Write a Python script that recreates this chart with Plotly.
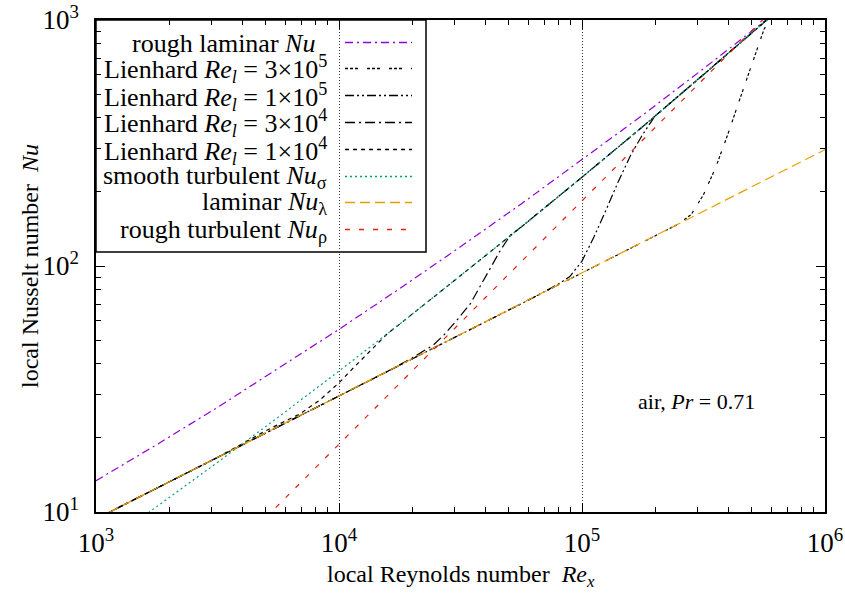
import plotly.graph_objects as go

# ---------------- data ----------------
re_rough_lam = [1000, 1780, 3160, 5620, 10000, 17800, 31600, 56200, 100000, 178000, 316000, 562000, 631000]
nu_rough_lam = [13.4, 18.8, 26.6, 38.2, 55.3, 81.0, 119.7, 178.8, 270, 411, 634, 985, 1078]

re_l3e5 = [1000, 10000, 100000, 199500, 251200, 281800, 316200, 354800, 398100, 446700, 501200, 562300, 631000]
nu_l3e5 = [9.37, 29.6, 93.6, 132.3, 148.6, 162.2, 195.0, 251.2, 342.8, 478.6, 668.3, 922, 1081]

re_l1e5 = [1000, 10000, 63100, 79400, 89100, 100000, 112200, 125900, 141300, 158500, 177800, 199500, 316000, 631000]
nu_l1e5 = [9.37, 29.6, 74.4, 84.1, 90.6, 104.7, 131.8, 169.8, 221.3, 281.8, 342.8, 406.4, 599, 1081]

re_l3e4 = [1000, 10000, 15850, 20000, 24500, 27000, 30600, 34800, 38800, 42000, 46200, 50800, 56200, 100000, 178000, 316000, 631000]
nu_l3e4 = [9.37, 29.6, 37.3, 42.3, 47.8, 52.4, 60.3, 70.5, 85.1, 97.9, 116.1, 133.7, 144, 229.6, 369, 599, 1081]

re_l1e4 = [1000, 3160, 5000, 6920, 8260, 10000, 11510, 13490, 15850, 17800, 31600, 56200, 100000, 178000, 316000, 631000]
nu_l1e4 = [9.37, 16.66, 21.4, 25.1, 28.3, 33.5, 38.7, 45.4, 53.2, 58.1, 91.1, 144, 229.6, 369, 599, 1081]

re_smooth_turb = [1580, 3160, 5620, 10000, 17800, 31600, 56200, 100000, 178000, 316000, 631000]
nu_smooth_turb = [9.66, 15.9, 24.3, 37.4, 58.1, 91.1, 144, 229.6, 369, 599, 1081]

re_laminar = [1000, 10000, 100000, 1000000]
nu_laminar = [9.37, 29.6, 93.6, 297]

re_rough_turb = [5000, 10000, 100000, 631000]
nu_rough_turb = [9.5, 18.9, 184, 1140]

x_tickvals = [1e3, 1e4, 1e5, 1e6]
x_ticktext = ["10<sup>3</sup>", "10<sup>4</sup>", "10<sup>5</sup>", "10<sup>6</sup>"]
y_tickvals = [10, 100, 1000]
y_ticktext = ["10<sup>1</sup>", "10<sup>2</sup>", "10<sup>3</sup>"]
x_minor = [m * 10 ** e for e in (3, 4, 5) for m in range(2, 10)]
y_minor = [m * 10 ** e for e in (1, 2) for m in range(2, 10)]

legend_labels = [
    "rough laminar <i>Nu</i>",
    "Lienhard <i>Re</i><sub><i>l</i></sub> = 3×10<sup>5</sup>",
    "Lienhard <i>Re</i><sub><i>l</i></sub> = 1×10<sup>5</sup>",
    "Lienhard <i>Re</i><sub><i>l</i></sub> = 3×10<sup>4</sup>",
    "Lienhard <i>Re</i><sub><i>l</i></sub> = 1×10<sup>4</sup>",
    "smooth turbulent <i>Nu</i><sub>σ</sub>",
    "laminar <i>Nu</i><sub>λ</sub>",
    "rough turbulent <i>Nu</i><sub>ρ</sub>",
]
x_title = "local Reynolds number  <i>Re</i><sub><i>x</i></sub>"
y_title = "local Nusselt number  <i>Nu</i>"
note_text = "air, <i>Pr</i> = 0.71"

# ---------------- styles ----------------
PURPLE = "#9400d3"
TEAL = "#009e73"
ORANGE = "#e69f00"
RED = "#e51e10"
BLACK = "#000000"
FONT = "Liberation Serif"

series = [
    (re_rough_lam, nu_rough_lam, PURPLE, "8px,4px,2px,4px"),
    (re_l3e5, nu_l3e5, BLACK, "3px,2px,3px,2px,3px,9px"),
    (re_l1e5, nu_l1e5, BLACK, "9px,3px,2px,3px,2px,3px"),
    (re_l3e4, nu_l3e4, BLACK, "10px,4px,2px,4px"),
    (re_l1e4, nu_l1e4, BLACK, "4px,4px"),
    (re_smooth_turb, nu_smooth_turb, TEAL, "2px,3px"),
    (re_laminar, nu_laminar, ORANGE, "10px,5px"),
    (re_rough_turb, nu_rough_turb, RED, "5px,9px"),
]

fig = go.Figure()
for (xs, ys, col, dash), name in zip(series, legend_labels):
    fig.add_trace(go.Scatter(x=xs, y=ys, mode="lines", name=name,
                             line=dict(color=col, width=1.2, dash=dash),
                             showlegend=False, hoverinfo="skip"))

W, H = 845, 594
PX0, PX1, PY0, PY1 = 96, 825, 20, 512
L, R, T, B = PX0, W - PX1, PY0, H - PY1


def px(xp):
    return (xp - PX0) / (PX1 - PX0)


def py(yp):
    return (PY1 - yp) / (PY1 - PY0)


shapes = []
annotations = []
# legend box
shapes.append(dict(type="rect", xref="paper", yref="paper", x0=0, x1=px(426), y0=py(252), y1=1,
                   line=dict(color="black", width=1.5), fillcolor="white", layer="between"))
row0, drow = 41.5, 26.8
for i, ((xs, ys, col, dash), lab) in enumerate(zip(series, legend_labels)):
    yy = round(row0 + i * drow) + 0.5
    shapes.append(dict(type="line", xref="paper", yref="paper", x0=px(345), x1=px(412),
                       y0=py(yy), y1=py(yy), line=dict(color=col, width=1.5, dash=dash)))
    xr = 317 if i == 0 else 329
    annotations.append(dict(text=lab, xref="paper", yref="paper", x=px(xr), y=py(yy + 1),
                            xanchor="right", yanchor="middle", showarrow=False,
                            font=dict(size=26, family=FONT, color="black")))

annotations.append(dict(text=note_text, xref="paper", yref="paper",
                        x=px(636), y=py(401), xanchor="left", yanchor="middle", showarrow=False,
                        font=dict(size=22, family=FONT, color="black")))
annotations.append(dict(text=x_title, xref="paper", yref="paper",
                        x=px(461), y=py(576), xanchor="center", yanchor="middle", showarrow=False,
                        font=dict(size=24, family=FONT, color="black")))
annotations.append(dict(text=y_title, xref="paper", yref="paper", textangle=-90,
                        x=px(30), y=py(266), xanchor="center", yanchor="middle", showarrow=False,
                        font=dict(size=24, family=FONT, color="black")))

axis_common = dict(type="log", ticks="inside", ticklen=9, tickwidth=1, tickcolor="black",
                   showline=True, linecolor="black", linewidth=1.5, mirror="allticks",
                   tickfont=dict(size=27, family=FONT, color="black"),
                   ticklabeloverflow="allow", automargin=False, zeroline=False)

fig.update_layout(
    width=W, height=H, autosize=False,
    margin=dict(l=L, r=R, t=T, b=B, autoexpand=False),
    paper_bgcolor="white", plot_bgcolor="white",
    font=dict(family=FONT, size=22, color="black"),
    xaxis=dict(**axis_common, range=[3, 6], tickvals=x_tickvals, ticktext=x_ticktext,
               showgrid=True, gridcolor="#333333", griddash="1px,2px", gridwidth=1,
               ticklabelstandoff=6,
               minor=dict(tickvals=x_minor, ticks="inside", ticklen=5, tickcolor="black", showgrid=False)),
    yaxis=dict(**axis_common, range=[1, 3], tickvals=y_tickvals, ticktext=y_ticktext,
               showgrid=False, ticklabelstandoff=10,
               minor=dict(tickvals=y_minor, ticks="inside", ticklen=5, tickcolor="black", showgrid=False)),
    shapes=shapes,
    annotations=annotations,
)

# remove the browser's default page margin so the figure fills the window exactly
page_fix = ("document.documentElement.style.margin='0';document.documentElement.style.padding='0';"
            "document.documentElement.style.overflow='hidden';"
            "document.body.style.margin='0';document.body.style.padding='0';"
            "document.body.style.overflow='hidden';")
fig.write_html("out.html", config={"displayModeBar": False}, post_script=page_fix)
